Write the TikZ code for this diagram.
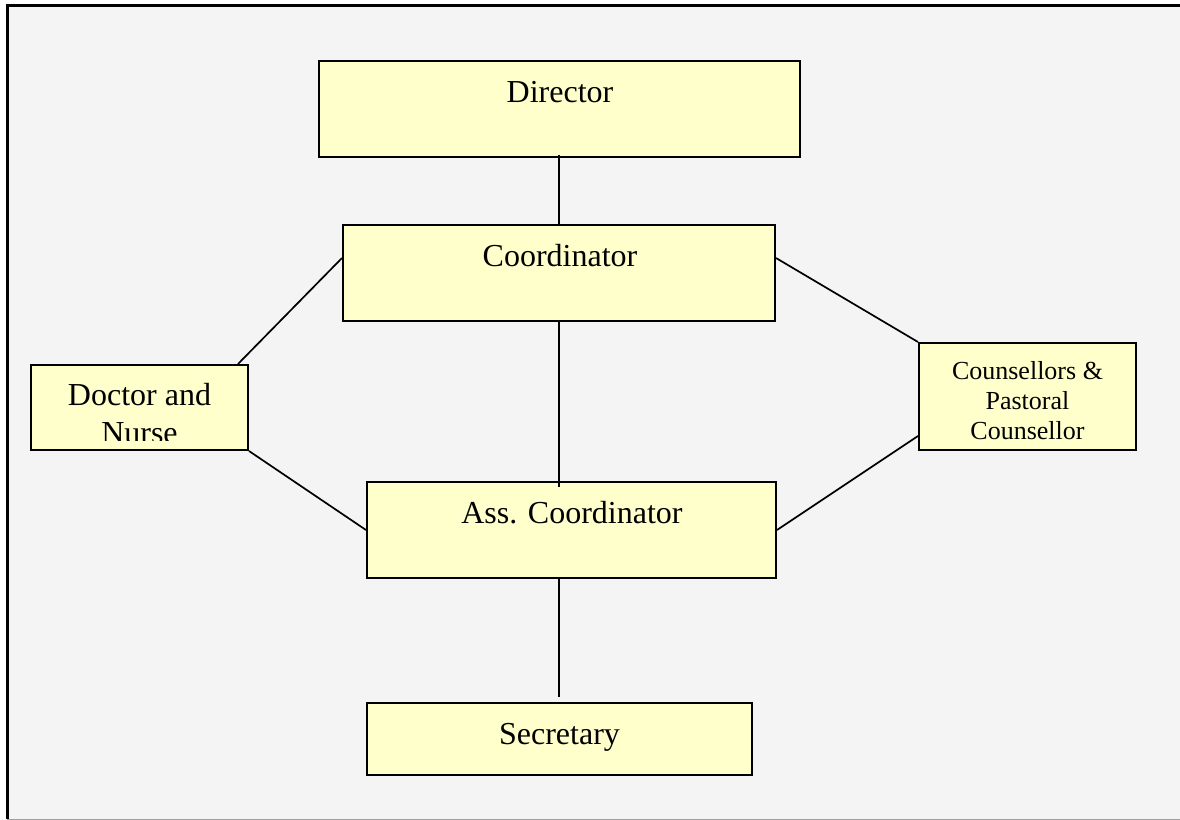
\documentclass[tikz,border=0pt]{standalone}
\usepackage{fontspec}
\setmainfont{Liberation Serif}
\usetikzlibrary{calc}
\definecolor{boxyellow}{HTML}{FFFFCC}
\definecolor{bggray}{HTML}{F4F4F4}
\definecolor{edgegray}{HTML}{A0A0A0}
\tikzset{
  box/.style={draw=black, fill=boxyellow, line width=1pt, inner sep=0pt},
  lbl/.style={anchor=base, inner sep=0pt, font=\fontsize{16}{19}\selectfont},
  slbl/.style={anchor=base, inner sep=0pt, font=\fontsize{13}{15}\selectfont},
  link/.style={draw=black, line width=0.85pt},
}
\begin{document}
\begin{tikzpicture}[x=0.5pt, y=-0.5pt]
\useasboundingbox (0,0) rectangle (1180,820);
\fill[white] (0,0) rectangle (1180,820);
\fill[bggray] (7,5) rectangle (1180,819);
\draw[edgegray, line width=0.5pt] (7,819) -- (1180,819);
\draw[black, line width=1.5pt] (7,819) -- (7,5) -- (1180,5);

% boxes
\node[box, minimum width=240.5pt, minimum height=48pt] (dir) at (559.5,109) {};
\node[box, minimum width=216pt, minimum height=48pt] (coord) at (559,273) {};
\node[box, minimum width=108.5pt, minimum height=42.5pt] (doc) at (139.5,407.5) {};
\node[box, minimum width=108.5pt, minimum height=53.5pt] (couns) at (1027.5,396.5) {};
\node[box, minimum width=204.5pt, minimum height=48pt] (ass) at (571.5,530) {};
\node[box, minimum width=192.5pt, minimum height=36pt] (sec) at (559.5,739) {};

% texts
\node[lbl] (dirT) at (560,102) {Director};
\node[lbl] (coordT) at (560,266) {Coordinator};
\node[lbl] (assT) at (572,523) {Ass. Coordinator};
\node[lbl] (secT) at (559.5,744) {Secretary};
\node[lbl] (docT1) at (139.5,405) {Doctor and};
\begin{scope}
  \clip (32,366) rectangle (247,440);
  \node[lbl] (docT2) at (139.5,443) {Nurse};
\end{scope}
\node[slbl] (counsT1) at (1027.5,379) {Counsellors \&};
\node[slbl] (counsT2) at (1027.5,409) {Pastoral};
\node[slbl] (counsT3) at (1027.5,439) {Counsellor};

% connectors
\draw[link] ($(coord.north |- dir.south)+(0,-3)$) -- ($(coord.north)+(0,2)$);
\draw[link] ($(coord.south)+(0,-2)$) -- ($(coord.south |- ass.north)+(0,6)$);
\draw[link] ($(coord.south |- ass.south)+(0,-2)$) -- ($(coord.south |- sec.north)+(0,-5)$);
\draw[link] ($(coord.west)+(0,-15)$) -- ($(doc.north east)+(-11,0)$);
\draw[link] (doc.south east) -- (ass.west);
\draw[link] ($(coord.east)+(0,-15)$) -- (couns.north west);
\draw[link] ($(couns.south west)+(0,-15)$) -- (ass.east);
\end{tikzpicture}
\end{document}
